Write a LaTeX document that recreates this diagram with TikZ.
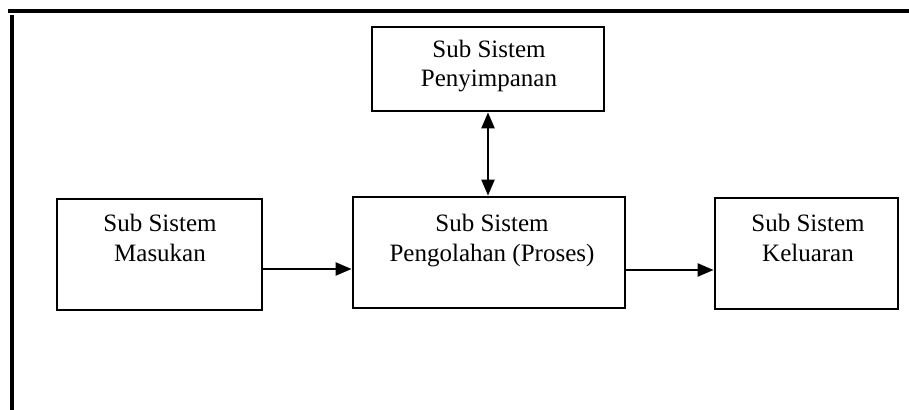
\documentclass[tikz,border=0pt]{standalone}
\usepackage{fontspec}
\setmainfont{Liberation Serif}
\usetikzlibrary{arrows.meta}
\begin{document}
\begin{tikzpicture}[x=0.5pt,y=-0.5pt,
  box/.style={draw, line width=1.4pt, inner sep=0pt, minimum height=55.5pt},
  lbl/.style={anchor=base, inner sep=0pt, font=\fontsize{12.5}{15}\selectfont},
  conn/.style={line width=1.1pt, -{Triangle[length=8pt,width=6.5pt]}},
  frameline/.style={line width=1.6pt}]
\useasboundingbox (0,0) rectangle (909,410);
% frame
\coordinate (ftl) at (8,11);
\coordinate (ftr) at (909,11);
\coordinate (fl1) at (12,15);
\coordinate (fl2) at (12,410);
\draw[frameline] (ftl) -- (ftr);
\draw[frameline] (fl1) -- (fl2);
% boxes
\node[box, minimum width=116pt, minimum height=42pt] (pen) at (488,69) {};
\node[box, minimum width=102.5pt] (mas) at (159.5,254.5) {};
\node[box, minimum width=136pt] (pro) at (489,252.5) {};
\node[box, minimum width=91.5pt] (kel) at (806.5,253.5) {};
% labels
\node[lbl] (pen1) at (489,58) {Sub Sistem};
\node[lbl] (pen2) at (489,87) {Penyimpanan};
\node[lbl] (mas1) at (160,232) {Sub Sistem};
\node[lbl] (mas2) at (160,262) {Masukan};
\node[lbl] (pro1) at (492,232) {Sub Sistem};
\node[lbl] (pro2) at (492,262) {Pengolahan (Proses)};
\node[lbl] (kel1) at (808,232) {Sub Sistem};
\node[lbl] (kel2) at (808,262) {Keluaran};
% connectors
\draw[conn] (mas.east |- 0,269) -- (pro.west |- 0,269);
\draw[conn] (pro.east |- 0,270) -- (kel.west |- 0,270);
\draw[line width=1.1pt, {Triangle[length=8pt,width=6.5pt]}-{Triangle[length=8pt,width=6.5pt]}] (pen.south) -- (pen.south |- pro.north);
\end{tikzpicture}
\end{document}
